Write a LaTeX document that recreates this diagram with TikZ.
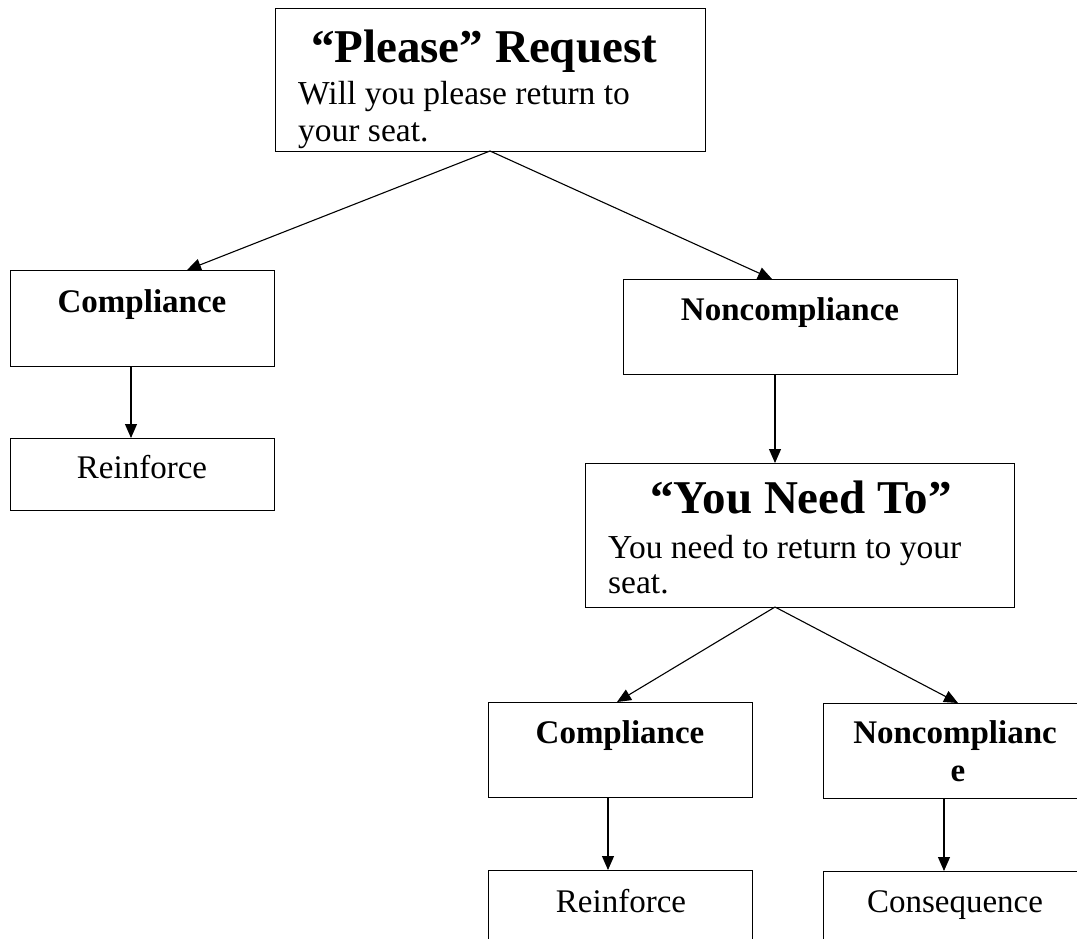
\documentclass[tikz,border=0pt]{standalone}
\usepackage{fontspec}
\setmainfont{Liberation Serif}
\usetikzlibrary{arrows.meta,calc}
\tikzset{
  box/.style={draw, line width=1.3pt, rectangle, inner sep=0pt, anchor=north west},
  lbl/.style={anchor=base, inner sep=0pt},
  bodytxt/.style={anchor=base west, inner sep=0pt},
  conn/.style={line width=1.1pt, -{Triangle[length=14pt,width=12pt]}},
}
\newcommand{\titlefont}{\fontsize{47}{52}\selectfont\bfseries}
\newcommand{\bodyfont}{\fontsize{33.5}{38}\selectfont}
\newcommand{\labfont}{\fontsize{33}{38}\selectfont\bfseries}
\newcommand{\regfont}{\fontsize{33}{38}\selectfont}
\begin{document}
\begin{tikzpicture}[x=1pt,y=-1pt]
\useasboundingbox (0,0) rectangle (1077,939);
\clip (0,0) rectangle (1077,939);
% boxes
\node[box, minimum width=430pt, minimum height=143pt] (top) at (275,8) {};
\node[box, minimum width=264pt, minimum height=96pt] (cmpL) at (10,270) {};
\node[box, minimum width=264pt, minimum height=72pt] (reiL) at (10,438) {};
\node[box, minimum width=334pt, minimum height=95pt] (ncmp) at (623,279) {};
\node[box, minimum width=429pt, minimum height=144pt] (ynt) at (585,463) {};
\node[box, minimum width=264pt, minimum height=95pt] (cmpB) at (488,702) {};
\node[box, minimum width=300pt, minimum height=95pt] (ncmpB) at (823,703) {};
\node[box, minimum width=264pt, minimum height=100pt] (reiB) at (488,870) {};
\node[box, minimum width=300pt, minimum height=100pt] (conB) at (823,871) {};
% texts
\node[lbl] (topT) at (484,63) {\titlefont “Please” Request};
\node[bodytxt] (topB1) at (298,105) {\bodyfont Will you please return to};
\node[bodytxt] (topB2) at (298,142) {\bodyfont your seat.};
\node[lbl] (cmpLT) at (142,312) {\labfont Compliance};
\node[lbl] (reiLT) at (142,478) {\regfont Reinforce};
\node[lbl] (ncmpT) at (790,320) {\labfont Noncompliance};
\node[lbl] (yntT) at (801,513) {\titlefont “You Need To”};
\node[bodytxt] (yntB1) at (608,558) {\bodyfont You need to return to your};
\node[bodytxt] (yntB2) at (608,593) {\bodyfont seat.};
\node[lbl] (cmpBT) at (620,743) {\labfont Compliance};
\node[lbl] (ncmpBT1) at (955,743) {\labfont Noncomplianc};
\node[lbl] (ncmpBT2) at (958,781) {\labfont e};
\node[lbl] (reiBT) at (621,912) {\regfont Reinforce};
\node[lbl] (conBT) at (955,912) {\regfont Consequence};
% connectors
\coordinate (a1) at (490,151);
\coordinate (a2) at (775,607);
\draw[conn] (a1) -- (187,270);
\draw[conn] (a1) -- (772,279);
\draw[conn] (cmpL.south -| 131,0) -- (reiL.north -| 131,0);
\draw[conn] (ncmp.south -| 775,0) -- (ynt.north -| 775,0);
\draw[conn] (a2) -- (617,702);
\draw[conn] (a2) -- (958,703);
\draw[conn] (cmpB.south -| 608,0) -- (reiB.north -| 608,0);
\draw[conn] (ncmpB.south -| 944,0) -- (conB.north -| 944,0);
\end{tikzpicture}
\end{document}
